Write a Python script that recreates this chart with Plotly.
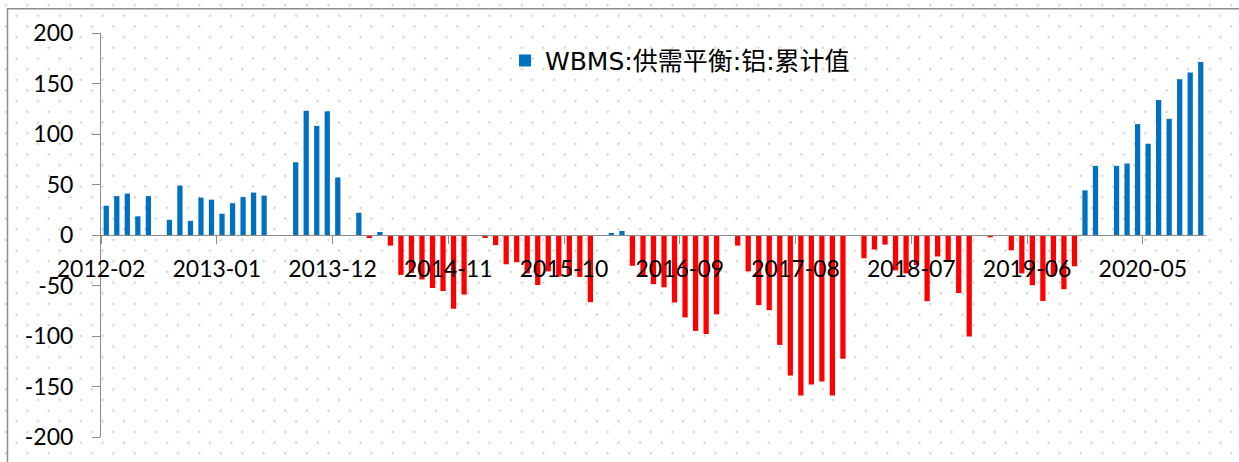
import base64
import pandas as pd
import plotly.graph_objects as go

# ---------------- data ----------------
SERIES_NAME = "WBMS:供需平衡:铝:累计值"
months = [p.strftime("%Y-%m") for p in pd.period_range("2012-02", "2020-10", freq="M")]
balance = [
    29, 38.5, 41, 18.5, 38.5, None, 15, 49, 14, 37, 35,            # 2012-02 .. 2012-12
    21, 31.5, 37.5, 42, 39, None, None, 72, 123, 108, 122.5, 57,   # 2013
    None, 22, -3, 3, -10.5, -39.5, -37.5, -44, -52.5, -55.5, -73, -59,  # 2014
    None, -3, -10, -29, -27, -38, -49.5, -36, -41, -40, -41.5, -66.5,   # 2015
    None, 1, 4, -30.5, -40, -48.7, -51.8, -66.8, -81.6, -95, -98, -78.6,  # 2016
    None, -10.5, -36, -69.4, -74.4, -108.8, -139, -159, -148, -145, -159, -122.5,  # 2017
    None, -23, -14.4, -9.5, -35, -38, -30, -65.5, -21.3, -25, -57.5, -100.5,  # 2018
    None, -2.3, None, -15.2, -38, -49.7, -65.3, -40, -53.7, -31, 44.2, 68.5,  # 2019
    None, 68.5, 70.8, 109.8, 90.4, 133.7, 115, 154.3, 160.9, 171.3,  # 2020-01 .. 2020-10
]
tick_labels = ["2012-02", "2013-01", "2013-12", "2014-11", "2015-10",
               "2016-09", "2017-08", "2018-07", "2019-06", "2020-05"]
y_ticks = [-200, -150, -100, -50, 0, 50, 100, 150, 200]

# ---------------- styling ----------------
W, H = 1239, 462
ML, MR, MT, MB = 101, 33, 33, 22
PW, PH = W - ML - MR, H - MT - MB
BLUE, RED = "#0070C0", "#FF0000"
AXIS = "#8c8c8c"
TICK_FONT = dict(family="Lato, Carlito, sans-serif", size=23, color="#000000")

x_pos = list(range(len(months)))
colors = [BLUE if (v is not None and v >= 0) else RED for v in balance]
tick_pos = [months.index(t) - 0.5 for t in tick_labels]

# dotted background pattern (chart-area fill)
svg = (
    f'<svg xmlns="http://www.w3.org/2000/svg" width="{W}" height="{H}" viewBox="0 0 {W} {H}">'
    '<defs><pattern id="p" patternUnits="userSpaceOnUse" x="21.925" y="-0.375" width="21.5" height="21.5">'
    '<circle cx="5.375" cy="5.375" r="1.1" fill="#c6c6c6"/>'
    '<circle cx="16.125" cy="16.125" r="1.1" fill="#c6c6c6"/>'
    '</pattern></defs>'
    f'<rect width="{W}" height="{H}" fill="url(#p)"/></svg>'
)
svg_uri = "data:image/svg+xml;base64," + base64.b64encode(svg.encode()).decode()

fig = go.Figure(
    go.Bar(
        x=x_pos,
        y=balance,
        width=0.5,
        name=SERIES_NAME,
        marker=dict(color=colors, line=dict(width=0)),
        showlegend=True,
        customdata=months,
        hovertemplate="%{customdata}: %{y}<extra></extra>",
    )
)

fig.update_layout(
    width=W,
    height=H,
    autosize=False,
    margin=dict(l=ML, r=MR, t=MT, b=MB, pad=0),
    paper_bgcolor="#ffffff",
    plot_bgcolor="rgba(0,0,0,0)",
    showlegend=True,
    legend=dict(
        x=(505 - ML) / PW,
        xanchor="left",
        y=(MT + PH - 61) / PH,
        yanchor="middle",
        bgcolor="rgba(0,0,0,0)",
        font=dict(family="DejaVu Sans, Noto Sans CJK SC, sans-serif", size=25, color="#000000"),
    ),
    xaxis=dict(
        range=[-0.5, len(months) - 0.5],
        tickmode="array",
        tickvals=tick_pos,
        ticktext=tick_labels,
        ticks="outside",
        ticklen=8,
        tickwidth=1,
        tickcolor=AXIS,
        showline=True,
        linecolor=AXIS,
        linewidth=1,
        showgrid=False,
        zeroline=False,
        anchor="free",
        position=0.5,
        tickfont=TICK_FONT,
        tickangle=0,
        ticklabelstandoff=5,
    ),
    yaxis=dict(
        range=[-200, 200],
        tickmode="array",
        tickvals=y_ticks,
        ticktext=[str(v) for v in y_ticks],
        ticks="outside",
        ticklen=8,
        tickwidth=1,
        tickcolor=AXIS,
        showline=True,
        linecolor=AXIS,
        linewidth=1,
        showgrid=False,
        zeroline=False,
        tickfont=TICK_FONT,
        ticklabelstandoff=14,
    ),
    images=[
        dict(
            source=svg_uri,
            xref="paper",
            yref="paper",
            x=-ML / PW,
            y=1 + MT / PH,
            sizex=W / PW,
            sizey=H / PH,
            xanchor="left",
            yanchor="top",
            sizing="stretch",
            layer="below",
        )
    ],
    shapes=[
        dict(
            type="rect",
            xref="paper",
            yref="paper",
            x0=(7.5 - ML) / PW,
            x1=(W + 20 - ML) / PW,
            y0=-(40 + MB) / PH,
            y1=1 + (MT - 8.5) / PH,
            line=dict(color=AXIS, width=1.5),
            fillcolor="rgba(0,0,0,0)",
            layer="above",
        )
    ],
)

fig.write_html("out.html")
